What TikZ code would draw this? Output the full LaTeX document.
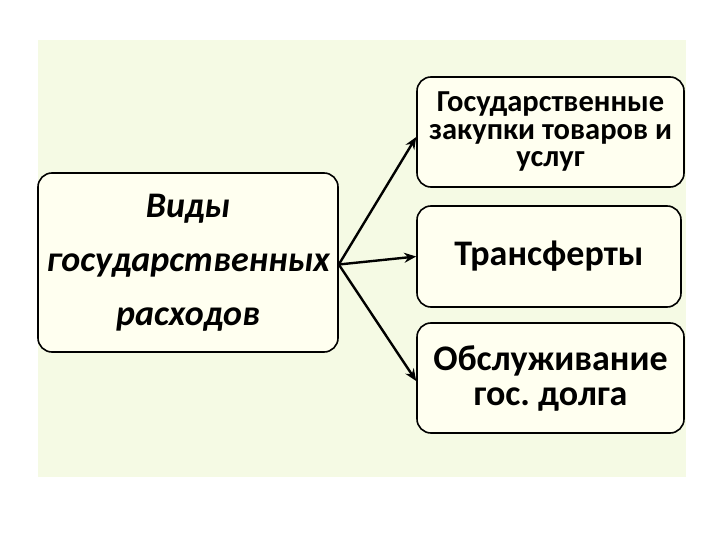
\documentclass[tikz,border=0pt]{standalone}
\usepackage{fontspec}
\setmainfont{Carlito}
\frenchspacing
\usetikzlibrary{arrows.meta}
\definecolor{bgc}{RGB}{245,250,228}
\definecolor{boxc}{RGB}{255,255,240}
\tikzset{
  box/.style={draw=black, line width=1.6pt, fill=boxc, rounded corners=14pt, align=center, inner sep=0pt},
  conn/.style={line width=2.4pt, -{Stealth[length=12pt,width=10pt]}}
}
\begin{document}
\begin{tikzpicture}[x=1pt,y=-1pt]
\useasboundingbox (0,0) rectangle (720,540);
\fill[bgc] (38,40) rectangle (686,477);
\node[box, minimum width=300pt, minimum height=179pt,
  font={\fontsize{36}{54}\selectfont\bfseries\itshape}] (main) at (188,262.5)
  {Виды\\государственных\\расходов};
\node[box, minimum width=267pt, minimum height=110pt,
  font={\fontsize{30.5}{27.5}\selectfont\bfseries}] (b1) at (550.5,132)
  {Государственные\\закупки товаров и\\услуг};
\node[box, minimum width=264pt, minimum height=101pt,
  font={\fontsize{36}{36}\selectfont\bfseries}] (b2) at (549,256.5)
  {Трансферты};
\node[box, minimum width=267pt, minimum height=110pt,
  font={\fontsize{36}{35}\selectfont\bfseries}] (b3) at (550.5,378)
  {Обслуживание\\гос. долга};
\draw[conn] ([yshift=-2pt]main.east) -- ([yshift=-5pt]b1.west);
\draw[conn] ([yshift=-2pt]main.east) -- (b2.west);
\draw[conn] ([yshift=-2pt]main.east) -- ([yshift=-3pt]b3.west);
\end{tikzpicture}
\end{document}
